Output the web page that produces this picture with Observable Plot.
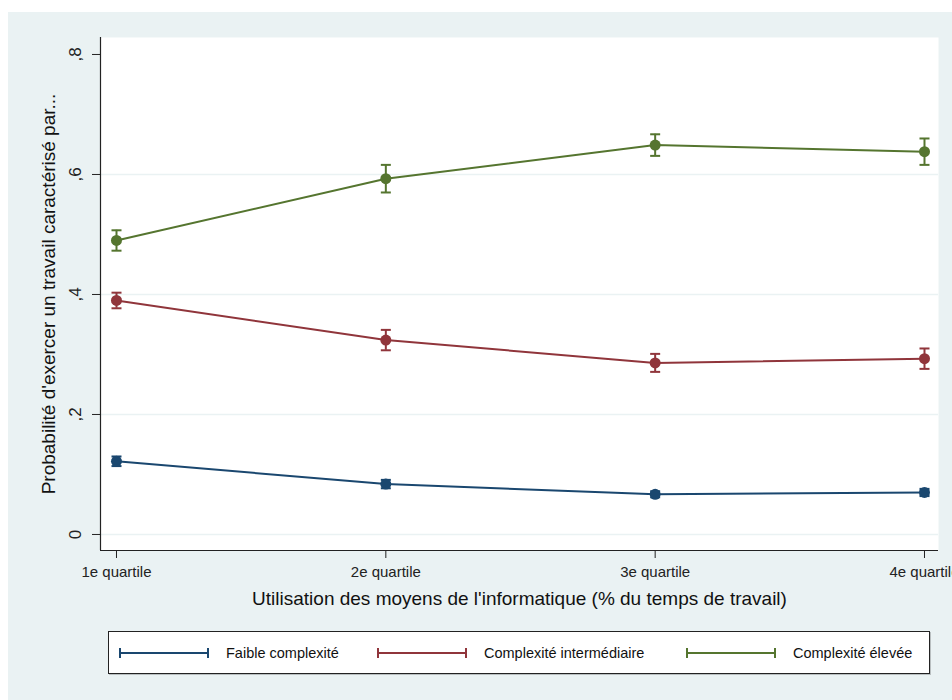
<!DOCTYPE html>
<html>
<head>
<meta charset="utf-8">
<script src="https://cdn.jsdelivr.net/npm/d3@7"></script>
<script src="https://cdn.jsdelivr.net/npm/@observablehq/plot@0.6"></script>
<style>
  html, body { margin: 0; padding: 0; background: #ffffff; }
  #wrap { position: absolute; left: 8px; top: 12px; width: 944px; height: 688px; background: #eaf2f3; font-family: "Liberation Sans", Arial, sans-serif; overflow: hidden; }
  #chart { position: absolute; left: 0; top: 0; }
  #legend { position: absolute; left: 100px; top: 619px; width: 820px; height: 41px; background: #fff; border: 1px solid #222; box-shadow: 1px 1px 0 #b9bfc0; }
  .entry { position: absolute; top: 0; height: 41px; display: flex; align-items: center; font-size: 14.5px; color: #111; white-space: nowrap; }
  .sample { display: inline-block; width: 86px; height: 10px; margin-right: 17px; }
</style>
</head>
<body>
<div id="wrap">
  <div id="chart"></div>
  <div id="legend"></div>
</div>
<script>
// ---- data ----
const categories = ["1e quartile", "2e quartile", "3e quartile", "4e quartile"];
const series = ["Faible complexité", "Complexité intermédiaire", "Complexité élevée"];
const colors = ["#1a476f", "#90353b", "#55752f"];
const faible = [0.122, 0.084, 0.067, 0.070];
const faibleErr = [0.008, 0.007, 0.005, 0.006];
const intermediaire = [0.390, 0.324, 0.286, 0.293];
const intermediaireErr = [0.013, 0.017, 0.015, 0.017];
const elevee = [0.490, 0.593, 0.649, 0.638];
const eleveeErr = [0.017, 0.023, 0.018, 0.022];
const yTicks = [0, 0.2, 0.4, 0.6, 0.8];
const gridTicks = [0, 0.2, 0.4, 0.6];
const xTitle = "Utilisation des moyens de l'informatique (% du temps de travail)";
const yTitle = "Probabilité d'exercer un travail caractérisé par...";

// ---- table ----
const values = [faible, intermediaire, elevee];
const errs = [faibleErr, intermediaireErr, eleveeErr];
const data = [];
series.forEach((s, si) => {
  categories.forEach((c, ci) => {
    data.push({series: s, cat: c, xi: ci, y: values[si][ci], lo: values[si][ci] - errs[si][ci], hi: values[si][ci] + errs[si][ci]});
  });
});

const fmt = d => d === 0 ? "0" : String(d).replace("0.", ",");
const capSymbol = { draw(ctx, size) { const w = 5; ctx.moveTo(-w, 0); ctx.lineTo(w, 0); } };
const xDomain = [-0.0594, 3.052];
const yDomain = [-0.0267, 0.8283];

const plot = Plot.plot({
  width: 944,
  height: 600,
  marginLeft: 92,
  marginRight: 14,
  marginTop: 25,
  marginBottom: 62,
  style: { background: "transparent", fontFamily: "'Liberation Sans', Arial, sans-serif", color: "#222", overflow: "visible" },
  x: { type: "linear", domain: xDomain },
  y: { domain: yDomain },
  color: { domain: series, range: colors },
  marks: [
    Plot.frame({ fill: "white", stroke: null }),
    Plot.ruleY(gridTicks, { stroke: "#eaf2f3", strokeWidth: 1.6 }),
    Plot.ruleY([yDomain[0]], { stroke: "#222", strokeWidth: 1.2 }),
    Plot.ruleX([xDomain[0]], { stroke: "#222", strokeWidth: 1.2 }),
    Plot.axisX({ ticks: [0, 1, 2, 3], tickFormat: i => categories[i], tickSize: 8, tickPadding: 8, fontSize: 15, stroke: "#222", label: null }),
    Plot.axisY({ ticks: yTicks, tickSize: 8, tickFormat: () => "", stroke: "#222", label: null }),
    Plot.text(yTicks, { y: d => d, text: fmt, frameAnchor: "left", rotate: -90, dx: -20, textAnchor: "middle", lineAnchor: "bottom", fontSize: 17, fill: "#222" }),
    Plot.text([yTitle], { frameAnchor: "left", rotate: -90, dx: -52, textAnchor: "middle", lineAnchor: "middle", fontSize: 19, fill: "#111" }),
    Plot.text([xTitle], { frameAnchor: "bottom", dy: 48, textAnchor: "middle", lineAnchor: "middle", fontSize: 19, fill: "#111" }),
    Plot.line(data, { x: "xi", y: "y", z: "series", stroke: "series", strokeWidth: 2 }),
    Plot.ruleX(data, { x: "xi", y1: "lo", y2: "hi", stroke: "series", strokeWidth: 2 }),
    Plot.dot(data, { x: "xi", y: "lo", symbol: capSymbol, stroke: "series", strokeWidth: 2, fill: "none" }),
    Plot.dot(data, { x: "xi", y: "hi", symbol: capSymbol, stroke: "series", strokeWidth: 2, fill: "none" }),
    Plot.dot(data, { x: "xi", y: "y", fill: "series", r: 5.5 })
  ]
});
document.getElementById("chart").appendChild(plot);

// ---- legend ----
const legend = document.getElementById("legend");
const entryLeft = [10, 268, 577];
series.forEach((s, i) => {
  const e = document.createElement("div");
  e.className = "entry";
  e.style.left = entryLeft[i] + "px";
  const sw = document.createElement("span");
  sw.className = "sample";
  const c = colors[i];
  sw.style.borderLeft = "2px solid " + c;
  sw.style.borderRight = "2px solid " + c;
  sw.style.background = `linear-gradient(${c}, ${c}) center / 100% 2px no-repeat`;
  e.appendChild(sw);
  const t = document.createElement("span");
  t.textContent = s;
  e.appendChild(t);
  legend.appendChild(e);
});
</script>
</body>
</html>
